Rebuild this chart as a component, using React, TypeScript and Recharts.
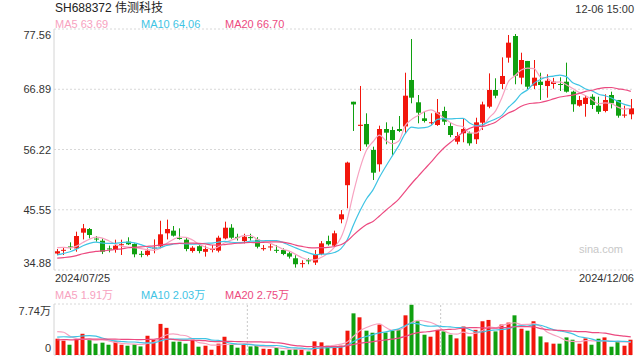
import React from "react";
import { ComposedChart, Bar, Line, XAxis, YAxis, CartesianGrid, ReferenceLine } from "recharts";

const tradeDates = [
  "2024/07/25","2024/07/26","2024/07/29","2024/07/30","2024/07/31",
  "2024/08/01","2024/08/02","2024/08/05","2024/08/06","2024/08/07","2024/08/08","2024/08/09",
  "2024/08/12","2024/08/13","2024/08/14","2024/08/15","2024/08/16","2024/08/19","2024/08/20",
  "2024/08/21","2024/08/22","2024/08/23","2024/08/26","2024/08/27","2024/08/28","2024/08/29","2024/08/30",
  "2024/09/02","2024/09/03","2024/09/04","2024/09/05","2024/09/06","2024/09/09","2024/09/10",
  "2024/09/11","2024/09/12","2024/09/13","2024/09/18","2024/09/19","2024/09/20","2024/09/23",
  "2024/09/24","2024/09/25","2024/09/26","2024/09/27","2024/09/30",
  "2024/10/08","2024/10/09","2024/10/10","2024/10/11","2024/10/14","2024/10/15","2024/10/16",
  "2024/10/17","2024/10/18","2024/10/21","2024/10/22","2024/10/23","2024/10/24","2024/10/25",
  "2024/10/28","2024/10/29","2024/10/30","2024/10/31",
  "2024/11/01","2024/11/04","2024/11/05","2024/11/06","2024/11/07","2024/11/08","2024/11/11",
  "2024/11/12","2024/11/13","2024/11/14","2024/11/15","2024/11/18","2024/11/19","2024/11/20",
  "2024/11/21","2024/11/22","2024/11/25","2024/11/26","2024/11/27","2024/11/28","2024/11/29",
  "2024/12/02","2024/12/03","2024/12/04","2024/12/05","2024/12/06",
];

const openPrices = [
  37.8, 38.35, 39.05, 38.7, 41.49, 42.14, 40.45, 40.07, 38.7, 38.42,
  39.35, 39.9, 39.48, 37.75, 37.54, 38.75, 39.07, 41.38, 41.85, 40.55,
  40.25, 38.24, 39.1, 38.1, 38.42, 38.3, 40.48, 42.37, 40.75, 40.0,
  40.7, 40.25, 38.65, 38.95, 38.45, 38.42, 37.84, 36.96, 36.0, 36.6,
  36.2, 37.72, 40.0, 39.19, 43.85, 49.9, 64.68, 60.4, 60.74, 56.13,
  53.6, 59.85, 59.67, 59.85, 60.3, 68.53, 64.58, 61.74, 60.9, 60.56,
  63.04, 60.38, 57.6, 59.1, 59.1, 58.03, 60.97, 63.8, 66.76, 67.82,
  72.48, 76.32, 68.94, 71.9, 67.52, 68.23, 67.46, 67.82, 67.82, 68.23,
  66.46, 63.98, 64.28, 65.57, 63.98, 63.04, 65.87, 64.99, 62.25, 62.45,
];
const highPrices = [
  38.6, 38.83, 39.78, 41.67, 43.03, 42.32, 40.9, 40.5, 39.2, 40.25,
  40.25, 40.67, 39.6, 38.24, 38.7, 40.3, 43.6, 43.8, 42.67, 42.26,
  40.6, 39.1, 39.6, 39.19, 39.3, 40.95, 43.44, 43.0, 41.3, 41.3,
  41.3, 40.7, 39.3, 39.7, 39.3, 38.7, 38.2, 37.5, 36.6, 36.96,
  38.42, 40.0, 40.96, 41.85, 45.5, 54.06, 64.68, 67.47, 62.63, 56.72,
  60.44, 61.03, 60.26, 62.15, 69.82, 75.79, 65.87, 63.04, 62.63, 65.16,
  63.8, 60.9, 59.3, 61.74, 59.4, 61.85, 64.69, 69.7, 68.83, 72.54,
  76.5, 76.67, 73.36, 71.9, 72.07, 69.82, 69.54, 68.9, 69.0, 71.6,
  66.63, 65.7, 65.87, 66.0, 65.57, 66.0, 66.46, 64.99, 63.98, 65.16,
];
const lowPrices = [
  37.5, 37.54, 38.42, 38.12, 40.3, 40.48, 39.9, 37.7, 38.0, 37.95,
  37.54, 39.3, 37.13, 37.13, 37.3, 37.84, 38.7, 40.3, 40.8, 40.25,
  38.2, 37.95, 37.84, 37.25, 38.0, 38.0, 40.3, 40.4, 40.1, 39.6,
  40.1, 38.7, 38.3, 38.3, 37.9, 37.5, 36.9, 35.3, 35.3, 35.9,
  35.77, 37.5, 39.2, 39.0, 43.15, 45.8, 59.5, 55.95, 56.72, 50.82,
  52.3, 57.14, 55.25, 59.3, 59.1, 64.4, 60.86, 61.0, 60.6, 60.4,
  60.56, 58.4, 57.14, 57.5, 56.9, 57.2, 59.67, 63.52, 65.29, 66.93,
  71.6, 67.77, 67.77, 66.93, 66.93, 64.99, 65.4, 67.0, 66.58, 66.3,
  62.9, 63.8, 62.03, 63.4, 62.5, 62.8, 63.5, 61.85, 61.85, 61.57,
];
const closePrices = [
  38.2, 38.45, 38.95, 40.9, 42.26, 41.08, 40.3, 38.12, 38.55, 39.19,
  39.45, 39.43, 37.66, 37.6, 38.3, 38.85, 41.2, 42.14, 40.96, 40.45,
  38.6, 38.83, 38.24, 38.6, 38.65, 40.6, 42.37, 40.6, 40.6, 40.78,
  40.6, 39.0, 38.75, 39.05, 38.3, 37.72, 37.25, 35.9, 36.1, 36.5,
  37.54, 39.6, 39.43, 41.38, 44.74, 53.9, 64.2, 60.6, 57.14, 52.11,
  59.85, 59.2, 57.9, 59.5, 65.75, 65.4, 62.74, 61.27, 61.05, 62.8,
  61.15, 58.79, 58.61, 59.85, 57.32, 61.03, 64.2, 66.76, 65.75, 69.24,
  75.14, 69.29, 72.07, 67.34, 68.94, 67.64, 68.4, 68.23, 67.7, 66.46,
  64.23, 64.99, 65.4, 64.1, 62.9, 64.99, 64.4, 62.21, 62.4, 63.52,
];
// volume in 万
const volumes = [
  2.47, 2.17, 1.56, 2.42, 3.22, 2.32, 1.72, 1.87, 1.56, 2.07,
  1.56, 1.41, 1.61, 1.3, 2.92, 2.32, 4.72, 4.12, 2.02, 2.02,
  1.72, 2.32, 1.26, 1.41, 0.8, 1.72, 2.77, 1.56, 1.11, 1.56,
  1.3, 1.41, 0.95, 0.9, 1.11, 0.65, 0.8, 0.9, 0.8, 0.54,
  2.07, 1.92, 1.41, 1.41, 1.41, 3.69, 6.32, 5.72, 3.69, 3.38,
  4.62, 3.42, 3.69, 3.92, 6.02, 7.62, 5.12, 3.08, 2.78, 3.82,
  3.58, 3.08, 2.52, 4.32, 2.82, 3.82, 5.12, 5.32, 3.58, 4.62,
  4.92, 6.02, 3.99, 3.69, 5.12, 2.82, 1.92, 1.72, 1.72, 2.67,
  2.32, 1.72, 2.52, 1.56, 2.47, 2.67, 1.26, 2.07, 1.41, 2.32,
];
// sessions before 07/25, only needed to start the moving averages
const priorCloses = [
  36.8, 36.5, 36.2, 36.0, 36.3, 36.6, 36.4, 36.2, 36.5, 37.0,
  35.8, 36.0, 36.2, 36.4, 36.85, 38.2, 39.5, 39.3, 39.05,
];
const priorVolumes = [
  1.7, 2.1, 1.8, 2.0, 1.6, 2.2, 1.9, 1.8, 2.0, 2.0,
  1.6, 2.0, 1.8, 2.0, 1.9, 2.7, 4.6, 4.2, 3.83,
];

const priceTicks = [34.88, 45.55, 56.22, 66.89, 77.56];
const volumeTicks = [0, 7.74];
const dateTickLabels = ["2024/07/25", "2024/12/06"];
const titleText = "SH688372 伟测科技";
const timeText = "12-06 15:00";
const priceMaLegend = ["MA5 63.69", "MA10 64.06", "MA20 66.70"];
const volumeMaLegend = ["MA5 1.91万", "MA10 2.03万", "MA20 2.75万"];
const watermark = "sina.com";

const RED = "#f2160c";
const GREEN = "#10a010";
const MA_COLORS = ["#f7a2c0", "#3fc4e4", "#ec4a80"];
const BORDER = "#d4d4d4";
const GRID = "#d8d8d8";
const FONT = "'Liberation Sans', Arial, 'Noto Sans CJK SC', sans-serif";

function movingAverage(prior: number[], values: number[], n: number): number[] {
  const all = [...prior, ...values];
  return values.map((_, i) => {
    const end = prior.length + i;
    let s = 0;
    for (let k = end - n + 1; k <= end; k++) s += all[k];
    return s / n;
  });
}

const ma5 = movingAverage(priorCloses, closePrices, 5);
const ma10 = movingAverage(priorCloses, closePrices, 10);
const ma20 = movingAverage(priorCloses, closePrices, 20);
const vma5 = movingAverage(priorVolumes, volumes, 5);
const vma10 = movingAverage(priorVolumes, volumes, 10);
const vma20 = movingAverage(priorVolumes, volumes, 20);

const rows = tradeDates.map((date, i) => ({
  date,
  open: openPrices[i],
  high: highPrices[i],
  low: lowPrices[i],
  close: closePrices[i],
  range: [lowPrices[i], highPrices[i]],
  vol: volumes[i],
  up: closePrices[i] >= openPrices[i],
  ma5: ma5[i],
  ma10: ma10[i],
  ma20: ma20[i],
  vma5: vma5[i],
  vma10: vma10[i],
  vma20: vma20[i],
}));

const Candle = (props: any) => {
  const { x, y, width, height, payload } = props;
  if (!payload) return null;
  const { open, close, high, low, up } = payload;
  const color = up ? RED : GREEN;
  const top = Math.min(y, y + height);
  const h = Math.abs(height);
  const ratio = high === low ? 0 : h / (high - low);
  const cx = Math.floor(x + width / 2) + 0.5;
  const yO = top + (high - open) * ratio;
  const yC = top + (high - close) * ratio;
  const bTop = Math.min(yO, yC);
  const bH = Math.max(1, Math.abs(yO - yC));
  return (
    <g>
      <line x1={cx} x2={cx} y1={top} y2={top + h} stroke={color} strokeWidth={1} />
      <rect x={cx - 2.5} y={bTop} width={5} height={bH} fill={color} />
    </g>
  );
};

const VolBar = (props: any) => {
  const { x, y, width, height, payload } = props;
  if (!payload) return null;
  const cx = Math.floor(x + width / 2) + 0.5;
  const top = Math.min(y, y + height);
  return <rect x={cx - 2} y={top} width={4} height={Math.abs(height)} fill={payload.up ? RED : GREEN} />;
};

const PriceTick = (props: any) => {
  const { y, payload } = props;
  const v = payload.value;
  let dy = 4;
  if (v === priceTicks[priceTicks.length - 1]) dy = 10;
  else if (v === priceTicks[0]) dy = -3;
  return (
    <text x={51} y={y + dy} textAnchor="end" fontSize={11} fill="#333" fontFamily={FONT}>
      {Number(v).toFixed(2)}
    </text>
  );
};

const VolTick = (props: any) => {
  const { y, payload } = props;
  const v = payload.value;
  const isTop = v === volumeTicks[volumeTicks.length - 1];
  return (
    <text x={51} y={y + (isTop ? 11 : -3)} textAnchor="end" fontSize={11} fill="#333" fontFamily={FONT}>
      {isTop ? `${v}万` : `${v}`}
    </text>
  );
};

const legendX = [55, 141, 225];

export default function App() {
  return (
    <div style={{ position: "absolute", left: 0, top: 0, width: 640, height: 360, background: "#fff" }}>
      <svg width={640} height={360} style={{ position: "absolute", left: 0, top: 0 }}>
        <text x={55} y={12} fontSize={12} fill="#222" fontFamily={FONT}>{titleText}</text>
        <text x={634} y={13} fontSize={11} fill="#333" textAnchor="end" fontFamily={FONT}>{timeText}</text>
        {priceMaLegend.map((t, i) => (
          <text key={t} x={legendX[i]} y={27.5} fontSize={11} fill={MA_COLORS[i]} fontFamily={FONT}>{t}</text>
        ))}
        <text x={55} y={281.5} fontSize={11} fill="#333" fontFamily={FONT}>{dateTickLabels[0]}</text>
        <text x={634} y={281.5} fontSize={11} fill="#333" textAnchor="end" fontFamily={FONT}>{dateTickLabels[1]}</text>
        {volumeMaLegend.map((t, i) => (
          <text key={t} x={legendX[i]} y={298.5} fontSize={11} fill={MA_COLORS[i]} fontFamily={FONT}>{t}</text>
        ))}
        <text x={623} y={253} fontSize={11} fill="#c8c8c8" textAnchor="end" fontFamily={FONT}>{watermark}</text>
      </svg>
      <div style={{ position: "absolute", left: 0, top: 0 }}>
        <ComposedChart width={640} height={360} data={rows} margin={{ top: 29, right: 6, bottom: 90, left: 0 }}>
          <CartesianGrid vertical={false} stroke={GRID} strokeDasharray="2 2" />
          <XAxis dataKey="date" height={0} tick={false} tickLine={false} axisLine={{ stroke: BORDER }} />
          <XAxis xAxisId="top" orientation="top" dataKey="date" height={0} tick={false} tickLine={false} axisLine={{ stroke: BORDER }} />
          <YAxis
            domain={[priceTicks[0], priceTicks[priceTicks.length - 1]]}
            ticks={priceTicks}
            interval={0}
            allowDataOverflow
            width={54}
            tick={(p: any) => <PriceTick {...p} />}
            tickLine={false}
            axisLine={{ stroke: BORDER }}
          />
          <YAxis yAxisId="r" orientation="right" domain={[0, 1]} width={0} tick={false} tickLine={false} axisLine={{ stroke: BORDER }} />
          <Bar dataKey="range" barSize={5} shape={(p: any) => <Candle {...p} />} isAnimationActive={false} />
          <Line dataKey="ma5" type="monotone" stroke={MA_COLORS[0]} strokeWidth={1.2} dot={false} activeDot={false} isAnimationActive={false} />
          <Line dataKey="ma10" type="monotone" stroke={MA_COLORS[1]} strokeWidth={1.2} dot={false} activeDot={false} isAnimationActive={false} />
          <Line dataKey="ma20" type="monotone" stroke={MA_COLORS[2]} strokeWidth={1.2} dot={false} activeDot={false} isAnimationActive={false} />
        </ComposedChart>
      </div>
      <div style={{ position: "absolute", left: 0, top: 0 }}>
        <ComposedChart width={640} height={360} data={rows} margin={{ top: 304, right: 6, bottom: 5, left: 0 }}>
          <CartesianGrid vertical={false} stroke={GRID} strokeDasharray="2 2" />
          <ReferenceLine x={tradeDates[30]} position="start" stroke="#c8c8c8" strokeDasharray="2 2" ifOverflow="visible" />
          <ReferenceLine x={tradeDates[60]} position="start" stroke="#c8c8c8" strokeDasharray="2 2" ifOverflow="visible" />
          <XAxis dataKey="date" height={0} tick={false} tickLine={false} axisLine={{ stroke: BORDER }} />
          <YAxis
            domain={[volumeTicks[0], volumeTicks[1]]}
            ticks={volumeTicks}
            interval={0}
            allowDataOverflow
            width={54}
            tick={(p: any) => <VolTick {...p} />}
            tickLine={false}
            axisLine={{ stroke: BORDER }}
          />
          <YAxis yAxisId="r" orientation="right" domain={[0, 1]} width={0} tick={false} tickLine={false} axisLine={{ stroke: BORDER }} />
          <Bar dataKey="vol" barSize={4} shape={(p: any) => <VolBar {...p} />} isAnimationActive={false} />
          <Line dataKey="vma5" type="monotone" stroke={MA_COLORS[0]} strokeWidth={1.2} dot={false} activeDot={false} isAnimationActive={false} />
          <Line dataKey="vma10" type="monotone" stroke={MA_COLORS[1]} strokeWidth={1.2} dot={false} activeDot={false} isAnimationActive={false} />
          <Line dataKey="vma20" type="monotone" stroke={MA_COLORS[2]} strokeWidth={1.2} dot={false} activeDot={false} isAnimationActive={false} />
        </ComposedChart>
      </div>
    </div>
  );
}
